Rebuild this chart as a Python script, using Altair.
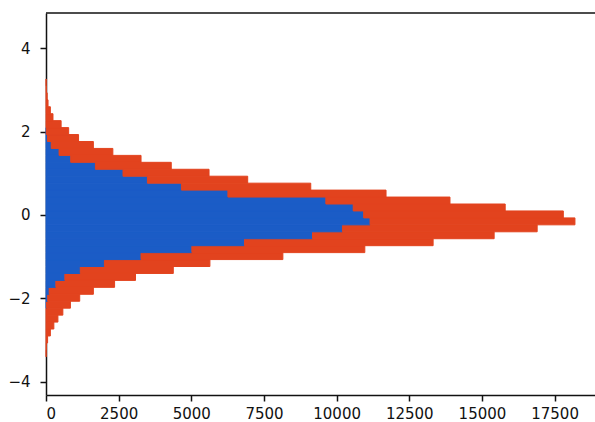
import altair as alt
import pandas as pd

# Horizontal stacked histogram: two samples sharing 50 equal-width bins.
BIN_START = -3.907
BIN_WIDTH = 0.1668
FIRST_BIN = 3  # counts below start at bin index 3 (lower bins are empty)

blue_counts = [0, 0, 0, 0, 0, 0, 0, 15, 60, 110, 340, 650, 1180, 2010, 3270,
               5020, 6830, 9170, 10200, 11150, 10930, 10570, 9630, 6260, 4660,
               3490, 2650, 1700, 850, 450, 180, 50, 10, 0, 0, 0, 0, 0, 0, 0]
red_counts = [5, 15, 55, 150, 270, 410, 580, 825, 1100, 1520, 2020, 2430, 3200,
              3630, 4880, 5950, 6490, 6250, 6700, 7050, 6870, 5230, 4270, 5440,
              4450, 3450, 2960, 2610, 2420, 1850, 1450, 1070, 770, 520, 240, 150,
              70, 40, 15, 5]

x_ticks = [0, 2500, 5000, 7500, 10000, 12500, 15000, 17500]
y_ticks = [-4, -2, 0, 2, 4]

series_names = ["first", "second"]
series_colors = ["#1b5cc6", "#e2431e"]

rows = []
for i, (b, r) in enumerate(zip(blue_counts, red_counts)):
    lo = BIN_START + (FIRST_BIN + i) * BIN_WIDTH
    hi = lo + BIN_WIDTH
    if b > 0:
        rows.append({"series": "first", "lo": lo, "hi": hi, "x0": 0, "x1": b})
    if r > 0:
        rows.append({"series": "second", "lo": lo, "hi": hi, "x0": b, "x1": b + r})
df = pd.DataFrame(rows)

LEFT = 46
W, H = 595 - LEFT, 382
FONT = "DejaVu Sans"

bars = alt.Chart(df).mark_bar(strokeWidth=1.0).encode(
    x=alt.X("x0:Q",
            scale=alt.Scale(domain=[0, 18890], nice=False, zero=True),
            axis=alt.Axis(values=x_ticks, format="d", title=None,
                          labelPadding=5, tickSize=6)),
    x2="x1:Q",
    y=alt.Y("lo:Q",
            scale=alt.Scale(domain=[-4.324, 4.85], nice=False, zero=False),
            axis=alt.Axis(values=y_ticks, format="d", title=None,
                          labelPadding=10, tickSize=6,
                          labelExpr="replace(datum.label, '-', '\u2212')")),
    y2="hi:Q",
    color=alt.Color("series:N",
                    scale=alt.Scale(domain=series_names, range=series_colors),
                    legend=None),
    stroke=alt.Color("series:N",
                     scale=alt.Scale(domain=series_names, range=series_colors),
                     legend=None),
)

# top edge of the frame
frame_top = alt.Chart(pd.DataFrame({"edge": [0]})).mark_rule(
    color="#111111", strokeWidth=1.5
).encode(x=alt.value(0), x2=alt.value(W), y=alt.value(0))

chart = alt.layer(bars, frame_top).properties(
    width=W,
    height=H,
    autosize=alt.AutoSizeParams(type="none"),
    padding={"left": LEFT, "top": 13, "right": 0, "bottom": 27},
    background="white",
).configure_view(
    stroke=None
).configure_axis(
    grid=False,
    labelFont=FONT,
    labelFontSize=15,
    labelColor="#111111",
    domainColor="#111111",
    domainWidth=1.5,
    tickColor="#111111",
    tickWidth=1.5,
)

chart.save("out.html", embed_options={"renderer": "svg", "actions": False})
